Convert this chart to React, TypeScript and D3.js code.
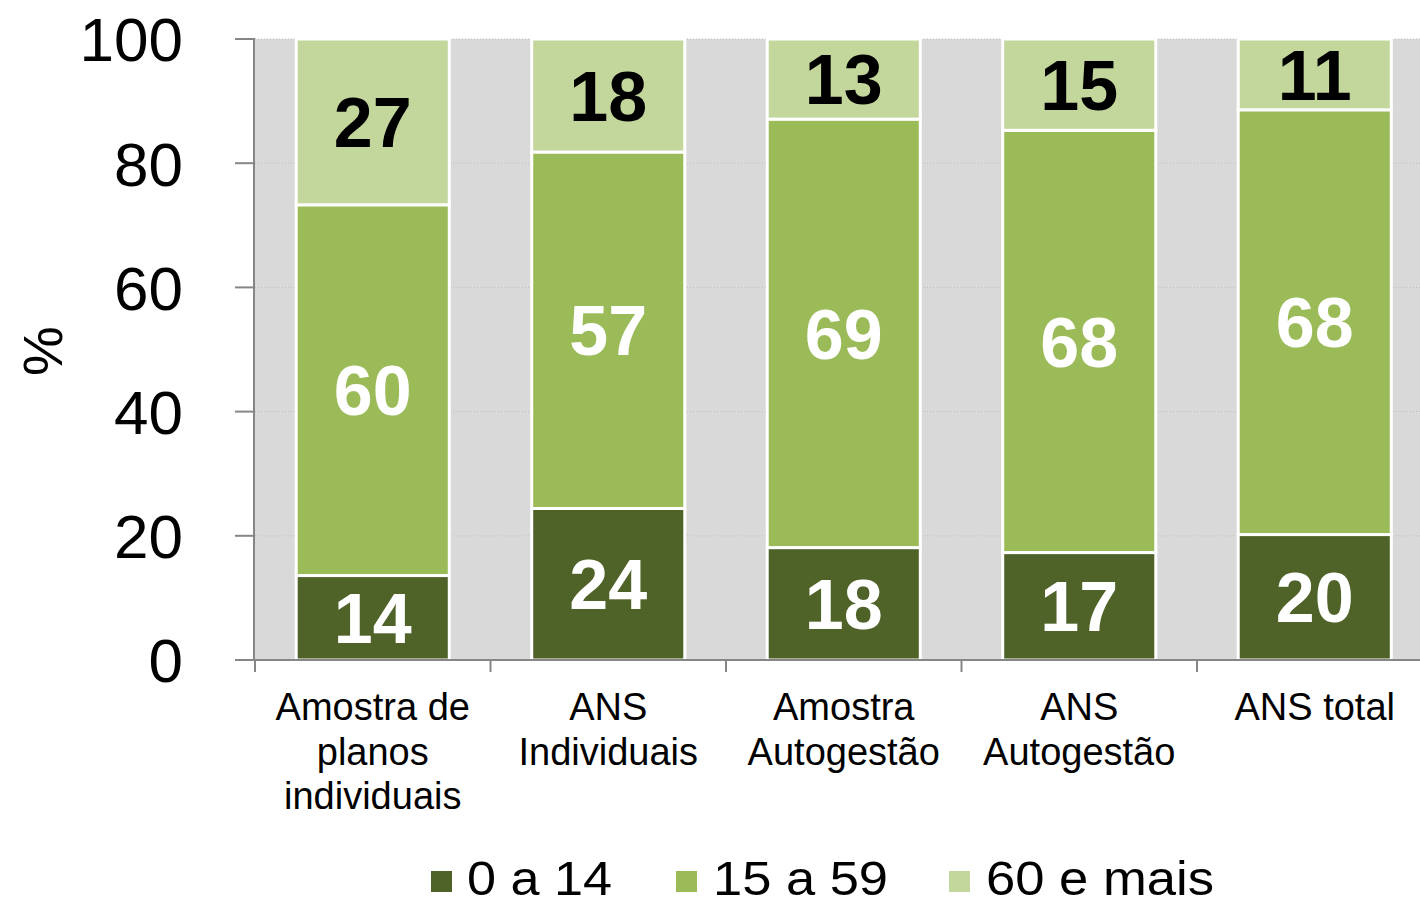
import React from "react";
import * as d3 from "d3";

const categories: string[][] = [
  ["Amostra de", "planos", "individuais"],
  ["ANS", "Individuais"],
  ["Amostra", "Autogestão"],
  ["ANS", "Autogestão"],
  ["ANS total"],
];
const seriesNames = ["0 a 14", "15 a 59", "60 e mais"];
const age0to14 = [13.6, 24.4, 18.1, 17.3, 20.2];
const age15to59 = [59.7, 57.4, 69.0, 68.0, 68.4];
const age60plus = [26.7, 18.2, 12.9, 14.7, 11.4];
const yTicks = [0, 20, 40, 60, 80, 100];

const colors = ["#4f6228", "#9bbb59", "#c3d69b"];
const labelColors = ["#ffffff", "#ffffff", "#000000"];

export default function App() {
  const W = 1420;
  const H = 906;
  const left = 255;
  const top = 39;
  const bottom = 660;
  const step = 235.5;
  const right = left + step * categories.length;

  const keys = categories.map((_, i) => String(i));
  const x = d3.scaleBand<string>().domain(keys).range([left, right]).padding(0);
  const y = d3.scaleLinear().domain([0, 100]).range([bottom, top]);

  const rows = keys.map((k, i) => ({
    key: k,
    s0: age0to14[i],
    s1: age15to59[i],
    s2: age60plus[i],
  }));
  const stack = d3.stack<any>().keys(["s0", "s1", "s2"]);
  const stacked = stack(rows);

  const bw = x.bandwidth() * 0.65;
  const fmt = d3.format(".0f");

  const legendItems = [
    { sq: 431, tx: 467 },
    { sq: 676, tx: 713 },
    { sq: 949, tx: 986 },
  ];

  return (
    <svg
      width={W}
      height={H}
      style={{ position: "absolute", left: 0, top: 0, background: "#fff" }}
      fontFamily="'Liberation Sans', Arial, sans-serif"
    >
      <rect x={left} y={top} width={right - left} height={bottom - top} fill="#d9d9d9" />
      {yTicks.map((t) => (
        <line
          key={"g" + t}
          x1={left}
          x2={right}
          y1={y(t)}
          y2={y(t)}
          stroke="#bdbdbd"
          strokeWidth={1}
          strokeDasharray="1,2"
        />
      ))}
      {stacked.map((layer, li) =>
        layer.map((d, i) => {
          const x0 = (x(keys[i]) as number) + (x.bandwidth() - bw) / 2;
          const y0 = y(d[1]);
          const y1 = y(d[0]);
          const v = d[1] - d[0];
          return (
            <g key={li + "-" + i}>
              <rect
                x={x0}
                y={y0}
                width={bw}
                height={y1 - y0}
                fill={colors[li]}
                stroke="#ffffff"
                strokeWidth={3}
              />
              <text
                x={x0 + bw / 2}
                y={(y0 + y1) / 2}
                dy="0.36em"
                textAnchor="middle"
                fontSize={70}
                fontWeight="bold"
                fill={labelColors[li]}
              >
                {fmt(v)}
              </text>
            </g>
          );
        })
      )}
      {/* y axis */}
      <line x1={left - 1} x2={left - 1} y1={top} y2={bottom} stroke="#868686" strokeWidth={2} />
      {yTicks.map((t) => (
        <g key={"t" + t}>
          <line x1={235} x2={left} y1={y(t)} y2={y(t)} stroke="#868686" strokeWidth={2} />
          <text x={183} y={y(t)} dy="0.36em" textAnchor="end" fontSize={62} fill="#000">
            {t}
          </text>
        </g>
      ))}
      {/* x axis */}
      <line x1={left - 20} x2={right} y1={bottom} y2={bottom} stroke="#868686" strokeWidth={2} />
      {keys.map((k) => (
        <line
          key={"xt" + k}
          x1={x(k) as number}
          x2={x(k) as number}
          y1={bottom}
          y2={bottom + 12}
          stroke="#868686"
          strokeWidth={2}
        />
      ))}
      {categories.map((lines, i) => (
        <text
          key={"c" + i}
          x={(x(keys[i]) as number) + x.bandwidth() / 2}
          y={720}
          textAnchor="middle"
          fontSize={38}
          fill="#000"
        >
          {lines.map((ln, j) => (
            <tspan key={j} x={(x(keys[i]) as number) + x.bandwidth() / 2} y={720 + j * 44.5}>
              {ln}
            </tspan>
          ))}
        </text>
      ))}
      <text transform="translate(62,351) rotate(-90)" textAnchor="middle" fontSize={56} fill="#000">
        %
      </text>
      {seriesNames.map((name, i) => (
        <g key={"l" + i}>
          <rect x={legendItems[i].sq} y={871} width={21} height={21} fill={colors[i]} />
          <text x={legendItems[i].tx} y={895} fontSize={48} fill="#000" textLength={i === 0 ? 145 : i === 1 ? 175 : 228} lengthAdjust="spacingAndGlyphs">
            {name}
          </text>
        </g>
      ))}
    </svg>
  );
}
